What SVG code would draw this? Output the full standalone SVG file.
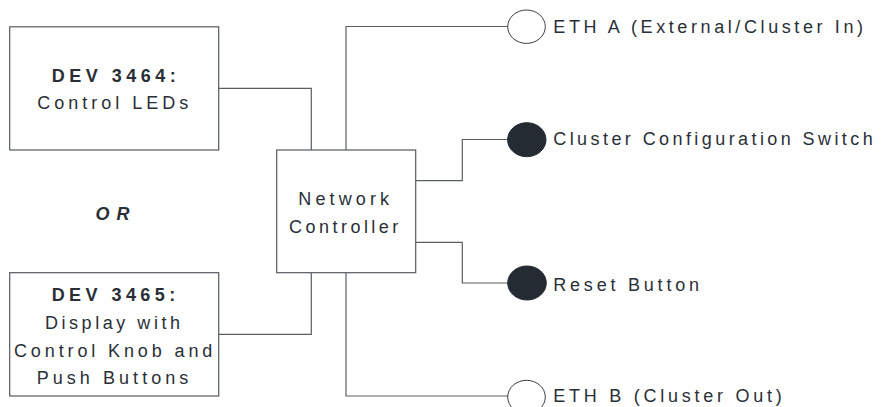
<svg xmlns="http://www.w3.org/2000/svg" width="881" height="407" viewBox="0 0 881 407">
<style>
.box{fill:#fff;stroke:#555a60;stroke-width:1.2}
.wire{fill:none;stroke:#5a5e63;stroke-width:1.2}
.port{fill:#fff;stroke:#3a3f45;stroke-width:1}
.btn{fill:#252b33;stroke:#252b33;stroke-width:1}
text{font-family:"Liberation Sans",Arial,sans-serif;font-size:18px;fill:#2a2f36}
.b{font-weight:bold}
.bi{font-weight:bold;font-style:italic}
</style>
<rect width="881" height="407" fill="#fff"/>
<g id="connectors">
<polyline class="wire" points="219,88.3 311.3,88.3 311.3,150"/>
<polyline class="wire" points="219,334.3 311.3,334.3 311.3,272.7"/>
<polyline class="wire" points="346,150 346,26.5 508,26.5"/>
<polyline class="wire" points="415.7,180.7 462.3,180.7 462.3,139.5 508,139.5"/>
<polyline class="wire" points="415.7,242.3 462.3,242.3 462.3,283 508,283"/>
<polyline class="wire" points="346,272.7 346,396 508.5,396"/>
</g>
<g id="dev3464">
<rect class="box" x="9.7" y="26.8" width="209" height="123.2"/>
<text class="b" x="51.7" y="82.3" textLength="124" lengthAdjust="spacing">DEV 3464:</text>
<text x="37.3" y="109" textLength="151" lengthAdjust="spacing">Control LEDs</text>
</g>
<g id="or">
<text class="bi" x="95.5" y="220" textLength="34" lengthAdjust="spacing">OR</text>
</g>
<g id="dev3465">
<rect class="box" x="9.7" y="272.7" width="209" height="123.3"/>
<text class="b" x="51.7" y="300.7" textLength="123.5" lengthAdjust="spacing">DEV 3465:</text>
<text x="45" y="329.3" textLength="135" lengthAdjust="spacing">Display with</text>
<text x="14" y="356.7" textLength="198.3" lengthAdjust="spacing">Control Knob and</text>
<text x="36.7" y="384.3" textLength="151.6" lengthAdjust="spacing">Push Buttons</text>
</g>
<g id="network-controller">
<rect class="box" x="276.7" y="150" width="139" height="122.7"/>
<text x="298.3" y="205" textLength="90.7" lengthAdjust="spacing">Network</text>
<text x="289" y="232.7" textLength="109.3" lengthAdjust="spacing">Controller</text>
</g>
<g id="eth-a">
<ellipse class="port" cx="526.5" cy="26.7" rx="18.8" ry="16.7"/>
<text x="553.3" y="33.3" textLength="309.7" lengthAdjust="spacing">ETH A (External/Cluster In)</text>
</g>
<g id="cluster-switch">
<ellipse class="btn" cx="526.8" cy="139.7" rx="19.2" ry="17"/>
<text x="553.3" y="145" textLength="319.4" lengthAdjust="spacing">Cluster Configuration Switch</text>
</g>
<g id="reset-button">
<ellipse class="btn" cx="527" cy="283" rx="19.3" ry="17"/>
<text x="553.3" y="290.7" textLength="145.7" lengthAdjust="spacing">Reset Button</text>
</g>
<g id="eth-b">
<ellipse class="port" cx="526.5" cy="397" rx="18.8" ry="16.7"/>
<text x="553.3" y="402.3" textLength="228.4" lengthAdjust="spacing">ETH B (Cluster Out)</text>
</g>
</svg>
